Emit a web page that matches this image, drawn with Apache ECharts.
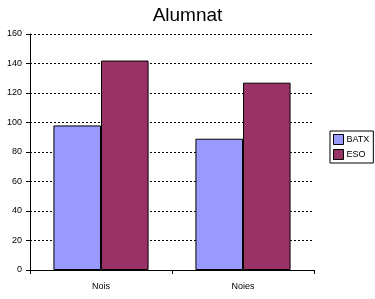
<!DOCTYPE html>
<html><head><meta charset="utf-8">
<script src="https://cdn.jsdelivr.net/npm/echarts@6/dist/echarts.min.js"></script>
<style>html,body{margin:0;padding:0;background:#fff}#c{width:375px;height:299px}</style>
</head><body><div id="c"></div>
<script>
const categories = ['Nois', 'Noies'];
const batx = [98, 89];
const eso = [142, 127];
const yTicks = [0, 20, 40, 60, 80, 100, 120, 140, 160];

const chart = echarts.init(document.getElementById('c'), null, {renderer: 'canvas'});
const font = 'Arial, "Liberation Sans", sans-serif';
chart.setOption({
  animation: false,
  backgroundColor: '#fff',
  title: {text: 'Alumnat', left: 'center', top: 1, textStyle: {fontFamily: font, fontWeight: 'normal', fontSize: 19, color: '#000'}},
  legend: {
    orient: 'vertical', left: 330, top: 131, data: ['BATX', 'ESO'],
    borderColor: '#000', borderWidth: 1, padding: [3, 4, 3, 3], itemGap: 4,
    itemWidth: 10, itemHeight: 10, icon: 'rect',
    itemStyle: {borderColor: '#000', borderWidth: 1},
    textStyle: {fontFamily: font, fontSize: 9, color: '#000', padding: [0, 0, 0, -2]}
  },
  grid: {left: 30, right: 61, top: 34, bottom: 29},
  xAxis: {
    type: 'category', data: categories,
    axisLine: {lineStyle: {color: '#000', width: 1}},
    axisTick: {show: true, length: 4, lineStyle: {color: '#000'}},
    axisLabel: {fontFamily: font, fontSize: 9, color: '#000', margin: 12}
  },
  yAxis: {
    type: 'value', min: yTicks[0], max: yTicks[yTicks.length - 1], interval: 20,
    axisLine: {show: true, lineStyle: {color: '#000', width: 1}},
    axisTick: {show: true, length: 4, lineStyle: {color: '#000'}},
    axisLabel: {fontFamily: font, fontSize: 9, color: '#000', margin: 8},
    splitLine: {show: true, lineStyle: {color: '#000', width: 1, type: [2, 2]}}
  },
  series: [
    {name: 'BATX', type: 'bar', data: batx, barCategoryGap: '33%', barGap: '0%',
     itemStyle: {color: '#9999FF', borderColor: '#000', borderWidth: 1}},
    {name: 'ESO', type: 'bar', data: eso, barCategoryGap: '33%', barGap: '0%',
     itemStyle: {color: '#993366', borderColor: '#000', borderWidth: 1}}
  ]
});
</script></body></html>
